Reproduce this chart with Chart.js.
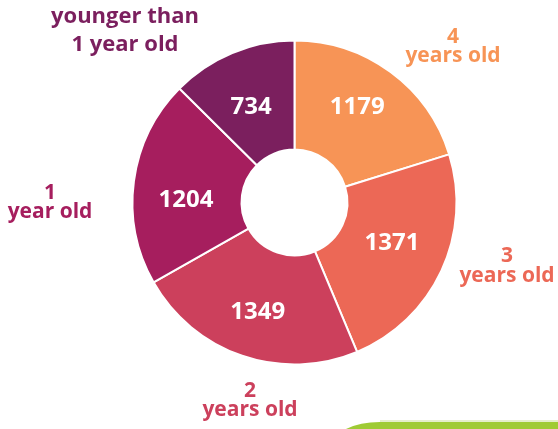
<!DOCTYPE html>
<html>
<head>
<meta charset="utf-8">
<script src="https://cdn.jsdelivr.net/npm/chart.js@4"></script>
<style>
  html, body { margin: 0; padding: 0; background: #fff; }
  #wrap { width: 558px; height: 429px; position: relative; }
</style>
</head>
<body>
<div id="wrap"><canvas id="ageChart"></canvas></div>
<script>
(() => {
  'use strict'

  // Data (clockwise from 12 o'clock)
  const categories = [
    ['4', 'years old'],
    ['3', 'years old'],
    ['2', 'years old'],
    ['1', 'year old'],
    ['younger than', '1 year old']
  ];
  const counts = [1179, 1371, 1349, 1204, 734];
  const colors = ['#F79456', '#EC6856', '#CC405C', '#A61E5E', '#7B1F5E'];

  // Draws the numbers inside the slices and the age labels around the ring
  const labelPlugin = {
    id: 'ageLabels',
    afterDatasetsDraw(chart, args, opts) {
      const ctx = chart.ctx;
      const meta = chart.getDatasetMeta(0);
      ctx.save();
      ctx.textAlign = 'center';
      ctx.textBaseline = 'middle';
      meta.data.forEach((arc, i) => {
        const p = arc.getProps(['x', 'y', 'startAngle', 'endAngle', 'innerRadius', 'outerRadius']);
        const mid = (p.startAngle + p.endAngle) / 2;
        const r = (p.innerRadius + p.outerRadius) / 2;
        const n = opts.valueNudge[i];
        ctx.fillStyle = '#fff';
        ctx.font = 'bold 24px "Open Sans"';
        ctx.fillText(chart.data.datasets[0].data[i], p.x + Math.cos(mid) * r + n[0], p.y + Math.sin(mid) * r + n[1]);

        // outer label
        const o = opts.outerOffset[i];
        const lines = chart.data.labels[i];
        const gap = opts.lineGap[i];
        ctx.fillStyle = colors[i];
        ctx.font = 'bold ' + opts.outerSize[i] + 'px "Open Sans"';
        lines.forEach((line, k) => {
          ctx.fillText(line, p.x + o[0], p.y + o[1] + (k - (lines.length - 1) / 2) * gap);
        });
      });
      ctx.restore();
    }
  };

  // green strip at the bottom right edge
  const stripPlugin = {
    id: 'greenStrip',
    afterDraw(chart) {
      const ctx = chart.ctx;
      ctx.save();
      ctx.fillStyle = '#9FCB35';
      ctx.beginPath();
      ctx.moveTo(346, 429);
      ctx.quadraticCurveTo(360, 422, 380, 422);
      ctx.lineTo(558, 421);
      ctx.lineTo(558, 429);
      ctx.closePath();
      ctx.fill();
      ctx.fillStyle = '#E4EFCB';
      ctx.fillRect(380, 420, 178, 2);
      ctx.restore();
    }
  };

  const ctx = document.getElementById('ageChart').getContext('2d');

  new Chart(ctx, {
    type: 'doughnut',
    data: {
      labels: categories,
      datasets: [{
        data: counts,
        backgroundColor: colors,
        borderColor: '#fff',
        borderWidth: 2,
        hoverOffset: 0,
        offset: 0
      }]
    },
    options: {
      responsive: true,
      maintainAspectRatio: false,
      animation: false,
      radius: 162,
      cutout: '32.7%',
      layout: { padding: { left: 60, right: 29, top: 30, bottom: 54 } },
      plugins: {
        legend: { display: false },
        tooltip: { enabled: false },
        ageLabels: {
          valueNudge: [[-1, -9], [0, -5], [-2, 8], [-2, 12], [-2, 4]],
          outerOffset: [[158.5, -155.5], [212.5, 63.5], [-44.5, 198], [-244.5, 0], [-169.5, -171.5]],
          lineGap: [19, 20, 19, 19, 28],
          outerSize: [21, 21, 21, 21, 22]
        }
      }
    },
    plugins: [labelPlugin, stripPlugin]
  });
})()
</script>
</body>
</html>
